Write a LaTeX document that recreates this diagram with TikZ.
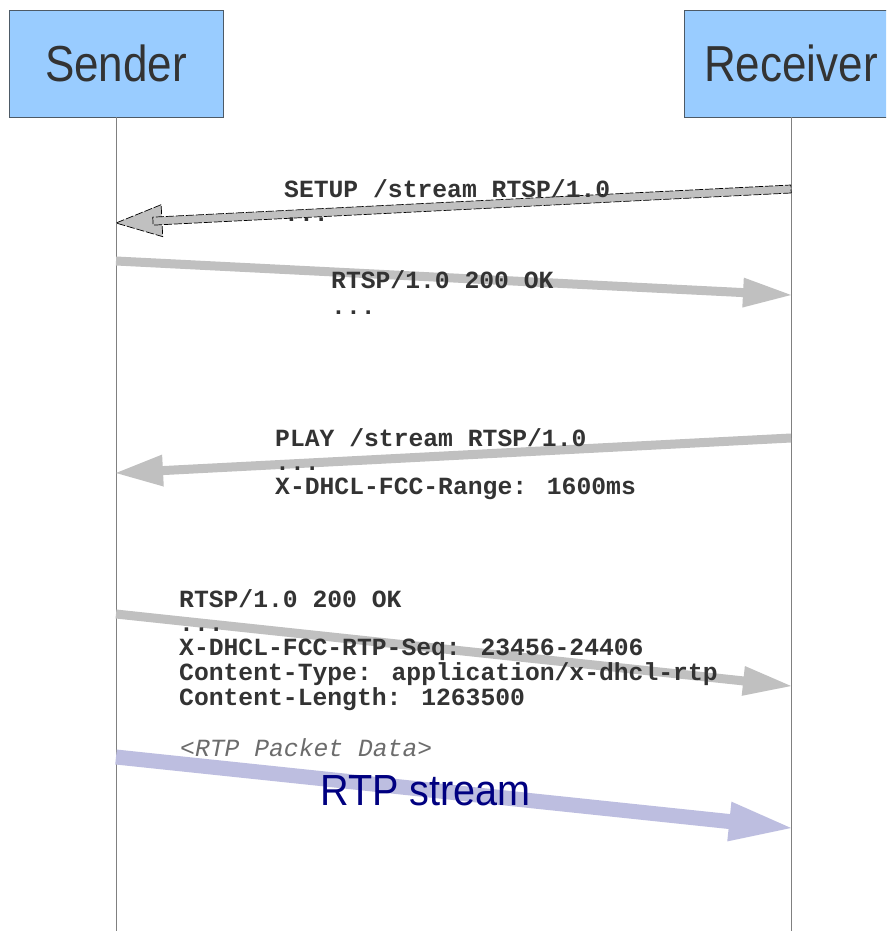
\documentclass[tikz,border=0pt]{standalone}
\usepackage{fontspec}
\setmainfont{Liberation Sans}
\newfontfamily\codefont{Liberation Mono}
\usetikzlibrary{calc}

\definecolor{boxblue}{HTML}{99CCFF}
\definecolor{boxedge}{HTML}{4D5A66}
\definecolor{msggrey}{HTML}{C0C0C0}
\definecolor{rtpblue}{HTML}{BDBEE0}
\definecolor{navy}{HTML}{000080}
\definecolor{inktext}{HTML}{333333}

% block arrow: #1 style, #2 from, #3 to, #4 shaft half width, #5 head length, #6 head half width
\newcommand{\blockarrow}[6]{%
  \coordinate (hb) at ($(#3)!#5!(#2)$);
  \path[#1] ($(#2)!#4!90:(#3)$) -- ($(hb)!#4!-90:(#2)$) -- ($(hb)!#6!-90:(#2)$)
    -- (#3) -- ($(hb)!#6!90:(#2)$) -- ($(hb)!#4!90:(#2)$) -- ($(#2)!#4!-90:(#3)$) -- cycle;
}

\tikzset{
  party/.style={draw=boxedge, line width=0.8pt, fill=boxblue, minimum width=214pt,
    minimum height=107pt, inner sep=0pt, text=inktext,
    font=\fontsize{44}{44}\selectfont},
  lifeline/.style={draw=gray, line width=0.9pt},
  msgarrow/.style={fill=msggrey},
  selarrow/.style={fill=msggrey, draw=black, line width=0.7pt, dash pattern=on 8pt off 2pt},
  rtparrow/.style={fill=rtpblue},
  msgtext/.style={anchor=base west, inner sep=0pt, text=inktext,
    font=\codefont\bfseries\fontsize{24.7}{24}\selectfont},
  datatext/.style={anchor=base west, inner sep=0pt, text=gray!85!black,
    font=\codefont\itshape\fontsize{24.7}{24}\selectfont},
  streamtext/.style={anchor=base west, inner sep=0pt, text=navy,
    font=\fontsize{39.6}{40}\selectfont}
}

\begin{document}
\begin{tikzpicture}[x=1pt, y=-1pt]
  \clip (0,0) rectangle (886,931);
  \fill[white] (0,0) rectangle (886,931);

  % participants
  \node[party] (snd) at (116,63.5) {\scalebox{1}[1.15]{Sender}};
  \node[party] (rcv) at (791,63.5) {\scalebox{1}[1.15]{Receiver}};

  % lifelines
  \coordinate (sbot) at (116,931);
  \coordinate (rbot) at (791,931);
  \draw[lifeline] (snd.south) -- (sbot);
  \draw[lifeline] (rcv.south) -- (rbot);

  % message end points on the lifelines
  \coordinate (r1) at (791,189);  \coordinate (s1) at (116,223);
  \coordinate (s2) at (116,261);  \coordinate (r2) at (791,295);
  \coordinate (r3) at (791,438);  \coordinate (s3) at (116,473);
  \coordinate (s4) at (116,614);  \coordinate (r4) at (791,686);
  \coordinate (s5) at (116,757);  \coordinate (r5) at (791,828);

  % messages
  \blockarrow{msgarrow}{s2}{r2}{4.5pt}{48pt}{15pt}
  \blockarrow{msgarrow}{r3}{s3}{4.5pt}{47pt}{16pt}
  \blockarrow{msgarrow}{s4}{r4}{4.5pt}{48pt}{15pt}
  \blockarrow{rtparrow}{s5}{r5}{7.5pt}{62pt}{20pt}
  % selected SETUP arrow: head, then shaft over it
  \coordinate (h1) at ($(s1)!46pt!(r1)$);
  \coordinate (k1) at ($(s1)!37pt!(r1)$);
  \path[selarrow] ($(h1)!16pt!90:(r1)$) -- (s1) -- ($(h1)!16pt!-90:(r1)$) -- cycle;
  \path[selarrow] ($(r1)!4pt!90:(k1)$) -- ($(k1)!4pt!-90:(r1)$)
    -- ($(k1)!4pt!90:(r1)$) -- ($(r1)!4pt!-90:(k1)$) -- cycle;

  % message texts
  \node[msgtext] (t1) at (284,197) {\begin{tabular}[t]{@{}l@{}}SETUP /stream RTSP/1.0\\...\end{tabular}};
  \node[msgtext] (t2) at (331,288) {\begin{tabular}[t]{@{}l@{}}RTSP/1.0 200 OK\\[2pt]...\end{tabular}};
  \node[msgtext] (t3) at (275,446) {\begin{tabular}[t]{@{}l@{}}PLAY /stream RTSP/1.0\\...\\X-DHCL-FCC-Range: 1600ms\end{tabular}};
  \node[msgtext] (t4) at (179,607) {\begin{tabular}[t]{@{}l@{}}RTSP/1.0 200 OK\\...\\X-DHCL-FCC-RTP-Seq: 23456-24406\\Content-Type: application/x-dhcl-rtp\\Content-Length: 1263500\end{tabular}};
  \node[datatext] (t5) at (180,756) {<RTP Packet Data>};
  \node[streamtext] (t6) at (320,805) {\scalebox{1}[1.1]{RTP stream}};
\end{tikzpicture}
\end{document}
